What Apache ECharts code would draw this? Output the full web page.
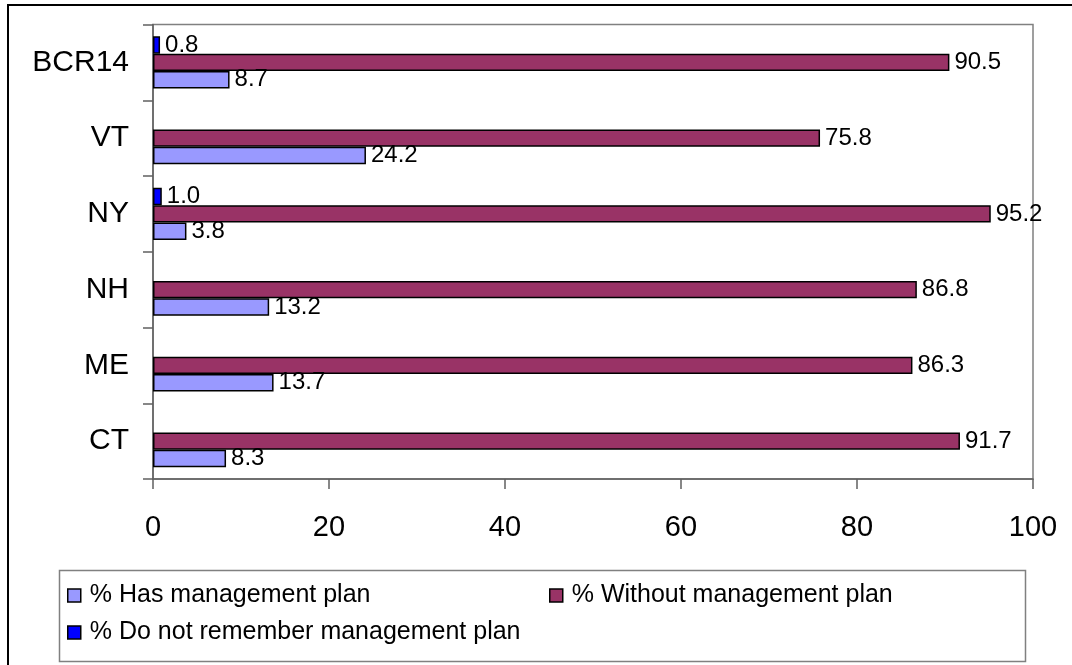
<!DOCTYPE html>
<html>
<head>
<meta charset="utf-8">
<script src="https://cdn.jsdelivr.net/npm/echarts@6/dist/echarts.min.js"></script>
<style>
html,body{margin:0;padding:0;background:#fff;}
#chart{width:1072px;height:665px;}
</style>
</head>
<body>
<div id="chart"></div>
<script>
const categories = ['CT', 'ME', 'NH', 'NY', 'VT', 'BCR14'];
const seriesNames = ['% Has management plan', '% Without management plan', '% Do not remember management plan'];
const hasPlan = [8.3, 13.7, 13.2, 3.8, 24.2, 8.7];
const withoutPlan = [91.7, 86.3, 86.8, 95.2, 75.8, 90.5];
const doNotRemember = [0, 0, 0, 1.0, 0, 0.8];
const xTicks = [0, 20, 40, 60, 80, 100];
const colors = ['#9999FF', '#993366', '#0000FF'];

const FONT = '"Liberation Sans", Arial, sans-serif';
const chart = echarts.init(document.getElementById('chart'), null, {renderer: 'canvas'});

const values = [hasPlan, withoutPlan, doNotRemember];
// ECharts places the first declared series at the top of each group; Excel puts the first at the bottom.
const series = [2, 1, 0].map(i => ({
  name: seriesNames[i],
  type: 'bar',
  data: values[i].map(v => (v === 0 ? {value: v, itemStyle: {borderWidth: 0}} : v)),
  barGap: '0%',
  barCategoryGap: '31%',
  itemStyle: {color: colors[i], borderColor: '#000', borderWidth: 1.5},
  label: {
    show: true,
    position: 'right',
    distance: 5,
    color: '#000',
    fontFamily: FONT,
    fontSize: 24,
    formatter: p => (p.value === 0 ? '' : p.value.toFixed(1))
  },
  emphasis: {disabled: true},
  animation: false
}));

function legendFor(i, left, top) {
  return {
    data: [seriesNames[i]],
    left: left,
    top: top,
    padding: 0,
    itemWidth: 13,
    itemHeight: 13,
    icon: 'rect',
    itemStyle: {borderColor: '#000', borderWidth: 1.5},
    textStyle: {fontFamily: FONT, fontSize: 25, color: '#000', padding: [0, 0, 0, 4]},
    selectedMode: false
  };
}

chart.setOption({
  animation: false,
  backgroundColor: '#fff',
  grid: {
    left: 153, top: 24.5, right: 39, bottom: 186,
    show: true, borderColor: '#808080', borderWidth: 1.5, backgroundColor: 'transparent'
  },
  xAxis: {
    type: 'value',
    min: xTicks[0],
    max: xTicks[xTicks.length - 1],
    interval: xTicks[1] - xTicks[0],
    splitLine: {show: false},
    axisLine: {show: true, lineStyle: {color: '#606060', width: 1.5}},
    axisTick: {show: true, length: 10, lineStyle: {color: '#606060', width: 1.5}},
    axisLabel: {fontFamily: FONT, fontSize: 29, color: '#000', margin: 34}
  },
  yAxis: {
    type: 'category',
    data: categories,
    axisLine: {show: true, lineStyle: {color: '#606060', width: 1.5}},
    axisTick: {show: true, length: 10, alignWithLabel: false, lineStyle: {color: '#606060', width: 1.5}},
    axisLabel: {fontFamily: FONT, fontSize: 30, color: '#000', margin: 24}
  },
  legend: [
    legendFor(0, 67, 583),
    legendFor(1, 549, 583),
    legendFor(2, 67, 620)
  ],
  graphic: [
    {type: 'rect', shape: {x: 8, y: 5, width: 1200, height: 800}, style: {fill: 'none', stroke: '#000', lineWidth: 2}, silent: true, z: -1},
    {type: 'rect', shape: {x: 59.5, y: 570.5, width: 966, height: 91}, style: {fill: 'none', stroke: '#808080', lineWidth: 1.5}, silent: true, z: -1}
  ],
  series: series
});
</script>
</body>
</html>
